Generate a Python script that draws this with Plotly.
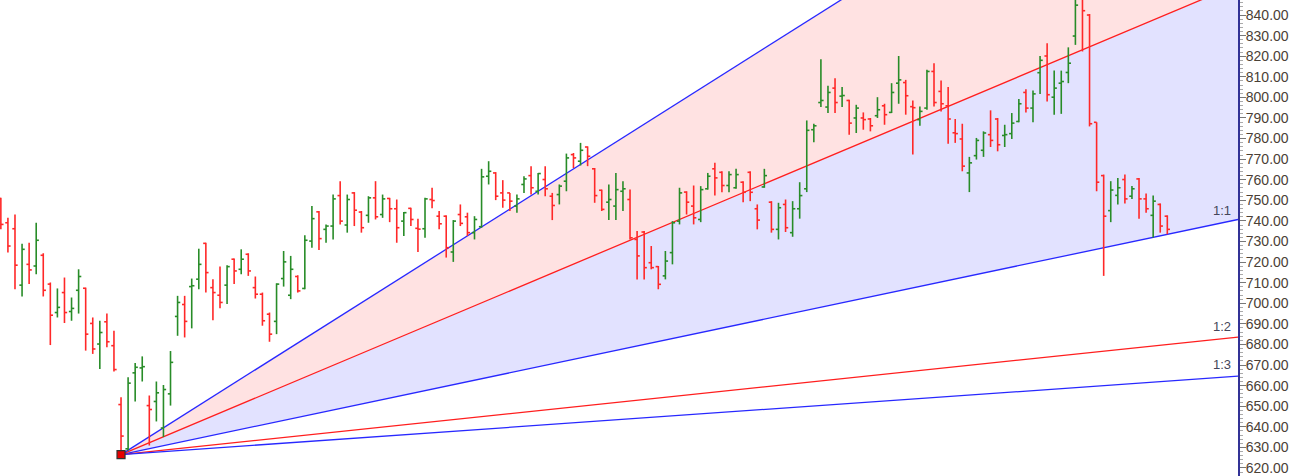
import plotly.graph_objects as go

# ---- OHLC data (bar index = trading day) ----
opens = [750.9, 739.1, 736.2, 708.8, 718.9, 718.1, 723.3, 709.3, 695.5, 705.2,
         696.0, 706.3, 707.3, 690.2, 680.2, 691.0, 679.4, 650.8, 629.3, 666.2,
         668.6, 650.3, 652.3, 639.4, 656.0, 693.6, 699.4, 708.1, 711.7, 729.1,
         707.6, 703.9, 708.8, 721.4, 716.5, 723.8, 707.6, 704.4, 694.7, 691.2,
         712.0, 703.9, 713.0, 707.2, 730.2, 744.4, 735.9, 737.5, 752.3, 738.0,
         753.6, 744.3, 742.7, 751.2, 743.1, 750.9, 745.9, 739.9, 746.1, 736.4,
         736.2, 750.4, 742.3, 742.3, 724.9, 743.1, 742.0, 734.3, 737.2, 761.7,
         763.3, 753.6, 753.6, 747.2, 757.7, 762.0, 754.4, 760.1, 752.0, 752.8,
         759.3, 772.2, 769.0, 775.9, 765.3, 754.9, 749.1, 747.2, 754.4, 750.4,
         731.0, 734.6, 719.7, 717.8, 713.3, 724.6, 739.9, 754.0, 747.2, 740.7,
         755.6, 765.3, 763.6, 757.2, 756.1, 758.8, 763.6, 745.9, 756.5, 749.1,
         735.9, 748.0, 734.3, 745.9, 755.6, 784.3, 797.5, 795.3, 804.5, 800.6,
         798.5, 790.0, 790.0, 789.5, 791.1, 795.9, 792.7, 806.9, 807.2, 795.5,
         789.2, 794.8, 812.6, 802.9, 795.9, 782.8, 779.8, 763.3, 771.7, 774.3,
         781.9, 789.5, 781.5, 782.4, 788.3, 802.4, 794.8, 812.0, 820.1, 800.1,
         806.9, 812.1, 829.8, 848.0, 840.0, 787.9, 762.0, 745.0, 752.4, 760.1,
         752.0, 760.4, 750.7, 742.7, 748.0, 742.3]
highs = [751.2, 741.5, 743.1, 728.9, 729.4, 739.1, 724.3, 710.1, 707.2, 712.5,
         702.8, 716.5, 707.6, 693.1, 691.5, 695.0, 686.7, 654.4, 664.1, 671.0,
         674.2, 655.2, 662.0, 660.3, 676.8, 703.6, 703.6, 712.0, 726.5, 729.4,
         711.7, 717.8, 718.5, 721.7, 726.2, 724.3, 713.0, 705.2, 695.5, 709.7,
         725.4, 723.0, 713.6, 733.0, 747.2, 744.8, 738.3, 752.8, 759.3, 752.8,
         754.0, 744.8, 752.0, 759.3, 752.8, 751.2, 750.4, 744.3, 746.4, 741.0,
         751.2, 756.1, 744.8, 742.7, 740.4, 748.0, 744.0, 742.3, 765.3, 769.0,
         763.7, 759.8, 753.6, 752.8, 761.7, 766.6, 763.3, 766.6, 753.6, 757.7,
         772.7, 773.0, 777.9, 776.2, 765.7, 755.2, 757.7, 763.3, 759.3, 755.2,
         735.1, 735.1, 727.8, 718.1, 725.4, 739.9, 756.1, 754.4, 757.2, 756.9,
         763.3, 768.2, 764.1, 764.1, 765.3, 759.3, 764.1, 748.0, 765.3, 749.6,
         748.8, 750.4, 749.6, 758.8, 788.8, 787.2, 818.5, 805.6, 809.3, 805.0,
         798.8, 796.4, 792.7, 790.0, 800.1, 796.9, 806.9, 820.1, 808.5, 798.5,
         795.6, 813.4, 816.6, 808.2, 805.0, 789.5, 787.2, 771.1, 780.3, 783.5,
         793.7, 790.0, 786.7, 792.4, 799.2, 804.0, 803.4, 820.1, 826.3, 813.0,
         813.0, 824.3, 849.0, 851.0, 840.5, 787.9, 762.5, 759.3, 760.9, 762.5,
         756.9, 760.9, 753.3, 752.3, 748.5, 742.7]
lows = [735.9, 724.6, 706.8, 703.3, 709.3, 714.1, 703.3, 679.7, 693.1, 690.4,
        691.5, 695.0, 677.0, 675.4, 668.1, 678.6, 666.8, 626.5, 628.5, 652.3,
        662.0, 630.9, 642.6, 635.0, 650.3, 684.2, 683.4, 687.8, 706.8, 705.2,
        691.8, 697.6, 699.6, 709.3, 714.1, 713.3, 702.3, 689.1, 681.3, 685.0,
        708.1, 702.0, 705.2, 706.8, 727.0, 725.9, 729.4, 731.0, 738.3, 734.3,
        737.5, 734.3, 739.1, 740.7, 741.5, 739.4, 729.4, 732.7, 737.5, 724.9,
        731.8, 746.1, 735.9, 722.2, 720.1, 737.5, 732.7, 731.0, 736.7, 757.7,
        750.1, 746.4, 744.8, 744.0, 753.6, 752.8, 752.8, 752.0, 740.4, 748.0,
        754.4, 765.7, 766.9, 766.6, 748.8, 744.8, 740.4, 740.4, 744.8, 731.0,
        711.6, 711.6, 716.5, 706.8, 711.6, 718.9, 738.3, 743.1, 738.3, 739.4,
        755.2, 752.3, 753.9, 753.9, 755.6, 749.1, 749.6, 735.9, 756.1, 734.3,
        731.0, 734.6, 732.3, 741.1, 754.0, 778.2, 795.3, 792.4, 792.4, 795.3,
        781.9, 782.7, 784.3, 783.5, 790.0, 786.7, 792.4, 796.9, 791.6, 772.2,
        786.2, 794.0, 795.6, 793.2, 777.5, 777.9, 764.1, 754.0, 769.8, 771.1,
        775.9, 773.8, 775.9, 779.8, 787.9, 792.7, 787.9, 801.7, 798.0, 791.6,
        792.0, 806.9, 825.5, 822.3, 785.9, 754.4, 713.3, 739.4, 748.0, 748.5,
        750.7, 741.0, 744.0, 731.9, 734.3, 733.5]
closes = [738.3, 727.8, 718.5, 726.2, 716.2, 730.6, 706.3, 694.2, 698.0, 695.5,
          697.5, 713.0, 685.0, 677.8, 685.8, 681.3, 667.8, 635.5, 661.2, 668.9,
          669.2, 648.4, 656.5, 658.1, 671.3, 700.4, 691.2, 708.5, 718.9, 714.9,
          705.2, 700.4, 717.8, 715.7, 721.4, 715.7, 704.4, 691.5, 685.0, 709.3,
          720.1, 716.5, 706.0, 730.6, 741.1, 731.4, 737.5, 750.7, 739.9, 750.4,
          745.2, 736.7, 751.2, 742.0, 750.7, 745.9, 736.7, 744.0, 740.7, 736.0,
          750.7, 749.9, 738.6, 727.0, 739.9, 738.8, 734.3, 740.7, 761.4, 764.1,
          752.0, 750.1, 749.6, 750.7, 760.4, 756.1, 763.0, 755.6, 747.5, 756.9,
          770.6, 770.6, 774.3, 771.4, 752.3, 745.6, 750.4, 755.2, 755.6, 731.8,
          723.0, 717.3, 717.3, 709.2, 720.5, 739.1, 753.6, 749.1, 741.5, 755.2,
          761.7, 760.9, 757.2, 762.5, 762.5, 753.9, 753.9, 740.4, 762.0, 735.9,
          746.4, 736.7, 745.9, 752.3, 784.0, 786.2, 798.5, 802.4, 797.5, 800.9,
          787.5, 794.8, 789.2, 786.2, 794.0, 791.6, 802.4, 808.5, 800.8, 795.0,
          793.2, 812.6, 797.5, 796.9, 789.5, 782.4, 766.6, 768.2, 779.1, 782.7,
          779.1, 777.0, 781.9, 787.5, 796.9, 794.8, 801.7, 818.0, 801.3, 804.5,
          807.7, 816.6, 844.8, 842.1, 787.2, 758.8, 742.3, 755.0, 756.1, 750.7,
          755.6, 750.7, 745.9, 749.6, 737.5, 735.9]
bars = list(range(len(opens)))

# ---- Gann fan ----
pivot_bar = 17
pivot_price = 626.5
unit = 0.7228          # price per bar for the 1:1 line
fan_end_bar = 175
y_range = [616.1, 847.3]
x_range = [-0.12, 175.0]

BLUE = "rgb(40,40,255)"
RED = "rgb(255,30,30)"
UP = "rgb(40,140,40)"
DOWN = "rgb(255,40,40)"
TICK = 0.38  # half-width of the open/close ticks, in bars


def fan_y(r):
    return [pivot_price, pivot_price + r * unit * (fan_end_bar - pivot_bar)]


fig = go.Figure()

# 1:1 base, then 2:1 filled lavender, then 3:1 filled pink
fig.add_trace(go.Scatter(x=[pivot_bar, fan_end_bar], y=fan_y(1.0), mode="lines",
                         line=dict(color=BLUE, width=1.3), hoverinfo="skip", showlegend=False))
fig.add_trace(go.Scatter(x=[pivot_bar, fan_end_bar], y=fan_y(2.0), mode="lines",
                         line=dict(color=RED, width=1.3), fill="tonexty",
                         fillcolor="rgb(226,226,255)", hoverinfo="skip", showlegend=False))
fig.add_trace(go.Scatter(x=[pivot_bar, fan_end_bar], y=fan_y(3.0), mode="lines",
                         line=dict(color=BLUE, width=1.3), fill="tonexty",
                         fillcolor="rgb(255,226,226)", hoverinfo="skip", showlegend=False))
fig.add_trace(go.Scatter(x=[pivot_bar, fan_end_bar], y=fan_y(0.5), mode="lines",
                         line=dict(color=RED, width=1.3), hoverinfo="skip", showlegend=False))
fig.add_trace(go.Scatter(x=[pivot_bar, fan_end_bar], y=fan_y(1 / 3), mode="lines",
                         line=dict(color=BLUE, width=1.3), hoverinfo="skip", showlegend=False))

# OHLC bars drawn as line segments so that they sit above the fan fills
for up, color in [(True, UP), (False, DOWN)]:
    xs, ys = [], []
    for i, o, h, l, c in zip(bars, opens, highs, lows, closes):
        if (c >= o) != up:
            continue
        xs += [i, i, None, i - TICK, i, None, i, i + TICK, None]
        ys += [l, h, None, o, o, None, c, c, None]
    fig.add_trace(go.Scatter(x=xs, y=ys, mode="lines", line=dict(color=color, width=1.6),
                             connectgaps=False, hoverinfo="skip", showlegend=False))

fig.add_trace(go.Scatter(x=[pivot_bar], y=[pivot_price], mode="markers",
                         marker=dict(symbol="square", size=8, color="rgb(230,0,0)",
                                     line=dict(color="rgb(50,50,50)", width=1.2)),
                         hoverinfo="skip", showlegend=False))

# labels for the lower fan lines
label_bar = 172.8
for r, name in zip([1.0, 0.5, 1 / 3], ["1:1", "1:2", "1:3"]):
    fig.add_annotation(x=label_bar, y=pivot_price + r * unit * (label_bar - pivot_bar),
                       text=name, showarrow=False, yanchor="bottom", xanchor="center",
                       yshift=3, font=dict(family="Liberation Sans, Arial", size=13, color="#45455a"))

fig.update_layout(
    width=1290, height=476,
    margin=dict(l=0, r=52, t=0, b=0),
    paper_bgcolor="white", plot_bgcolor="white",
    showlegend=False,
    xaxis=dict(range=x_range, visible=False, fixedrange=True),
    yaxis=dict(range=y_range, side="right", dtick=10, tick0=0, tickformat=".2f",
               showgrid=False, zeroline=False, showline=True, linecolor="rgb(50,50,150)", linewidth=2,
               ticks="outside", ticklen=6, tickcolor="rgb(120,120,120)", tickwidth=1,
               minor=dict(dtick=2, ticks="outside", ticklen=3, tickcolor="rgb(170,170,170)"),
               tickfont=dict(family="Liberation Sans, Arial", size=14, color="#4a4036"),
               ticklabelstandoff=-3,
               automargin=False),
)

fig.write_html("out.html", config={"displayModeBar": False},
               post_script="document.body.style.margin='0';document.body.style.overflow='hidden';")
